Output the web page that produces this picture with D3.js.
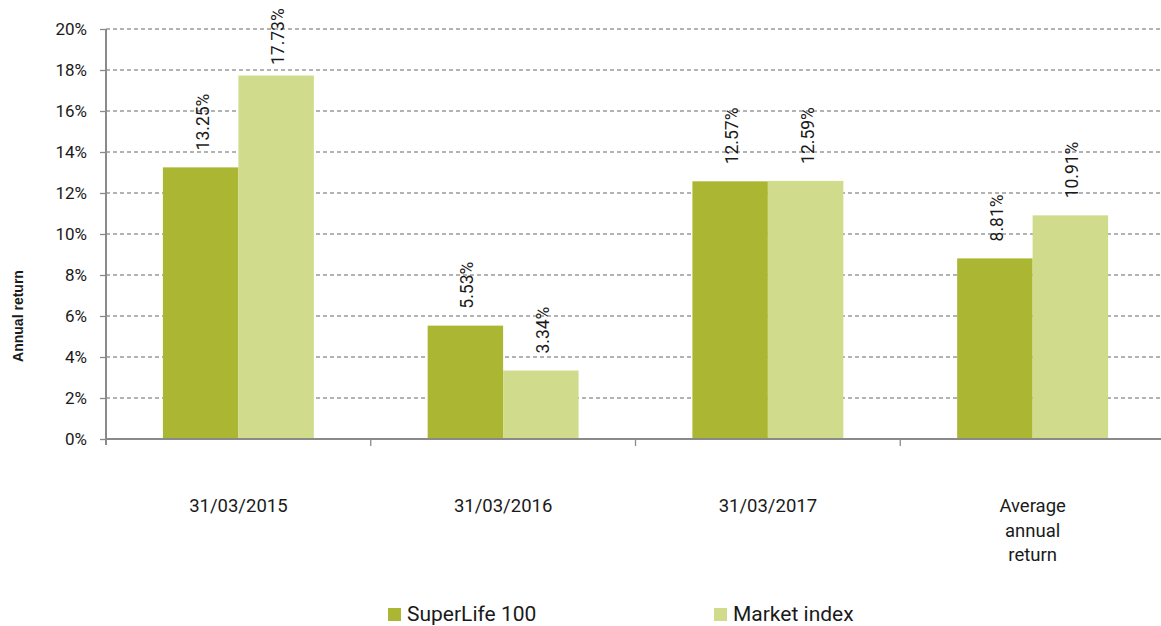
<!DOCTYPE html>
<html>
<head>
<meta charset="utf-8">
<script src="https://cdn.jsdelivr.net/npm/d3@7"></script>
<style>
  body { margin: 0; background: #fff; }
  text { font-family: Roboto, "Noto Sans", sans-serif; fill: #1a1a1a; }
</style>
</head>
<body>
<div id="chart-area"></div>
<script>
// data
let categories = ["31/03/2015", "31/03/2016", "31/03/2017", "Average annual return"];
let seriesNames = ["SuperLife 100", "Market index"];
let superLife = [13.25, 5.53, 12.57, 8.81];
let marketIndex = [17.73, 3.34, 12.59, 10.91];
let yTicks = [0, 2, 4, 6, 8, 10, 12, 14, 16, 18, 20];
let colors = ["#abb733", "#d0dc8c"];

let width = 1161,
	height = 626;

let svg = d3.select("#chart-area")
	.append("svg")
	.attr("width", width)
	.attr("height", height);

// scales
let x = d3.scaleBand()
	.domain(categories)
	.range([106, 1165])
	.paddingInner(0)
	.paddingOuter(0);

let xSub = d3.scaleBand()
	.domain(seriesNames)
	.range([0, x.bandwidth()])
	.paddingInner(0)
	.paddingOuter(0.754);

let y = d3.scaleLinear()
	.domain([0, 20])
	.range([439, 29]);

// gridlines
svg.append("g")
	.selectAll("line")
	.data(yTicks.filter(d => d > 0))
	.enter()
	.append("line")
	.attr("x1", 106)
	.attr("x2", width)
	.attr("y1", d => y(d))
	.attr("y2", d => y(d))
	.attr("stroke", "#9a9a9a")
	.attr("stroke-width", 1.3)
	.attr("stroke-dasharray", "4,3");

// bars
let rows = categories.map((c, i) => ({ cat: c, values: [superLife[i], marketIndex[i]] }));

let groups = svg.selectAll(".grp")
	.data(rows)
	.enter()
	.append("g")
	.attr("class", "grp")
	.attr("transform", d => "translate(" + x(d.cat) + ",0)");

groups.selectAll("rect")
	.data(d => d.values.map((v, j) => ({ name: seriesNames[j], value: v, j: j })))
	.enter()
	.append("rect")
	.attr("x", d => xSub(d.name))
	.attr("width", xSub.bandwidth())
	.attr("y", d => y(d.value))
	.attr("height", d => y(0) - y(d.value))
	.attr("fill", d => colors[d.j]);

// value labels (rotated)
groups.selectAll(".lbl")
	.data(d => d.values.map((v, j) => ({ name: seriesNames[j], value: v })))
	.enter()
	.append("text")
	.attr("class", "lbl")
	.attr("transform", d => {
		let cx = xSub(d.name) + xSub.bandwidth() / 2;
		let ty = Math.max(y(d.value) - 17, 65);
		return "translate(" + (cx + 8) + "," + ty + ") rotate(-90)";
	})
	.style("font-size", "17.5px")
	.text(d => d.value.toFixed(2) + "%");

// y axis
let yAxis = d3.axisLeft(y)
	.tickValues(yTicks)
	.tickSize(6)
	.tickPadding(13)
	.tickFormat(d => d + "%");

let yG = svg.append("g")
	.attr("transform", "translate(106,0)")
	.call(yAxis);
yG.select(".domain").attr("stroke", "#8a8a8a").attr("stroke-width", 2).attr("d", "M0,29V445");
yG.selectAll(".tick line").attr("stroke", "#8a8a8a").attr("stroke-width", 1.3);
yG.selectAll(".tick text")
	.style("font-size", "17px")
	.style("font-family", "Roboto, sans-serif")
	.attr("fill", "#1a1a1a");

// x axis line and ticks
svg.append("line")
	.attr("x1", 106)
	.attr("x2", width)
	.attr("y1", y(0))
	.attr("y2", y(0))
	.attr("stroke", "#8a8a8a")
	.attr("stroke-width", 2);

svg.append("g")
	.selectAll("line")
	.data(categories.slice(1))
	.enter()
	.append("line")
	.attr("x1", d => x(d))
	.attr("x2", d => x(d))
	.attr("y1", y(0))
	.attr("y2", y(0) + 7)
	.attr("stroke", "#8a8a8a")
	.attr("stroke-width", 1.3);

// category labels
let catText = svg.append("g")
	.selectAll("text")
	.data(categories)
	.enter()
	.append("text")
	.attr("x", d => x(d) + x.bandwidth() / 2)
	.attr("y", 512)
	.style("font-size", "18.5px")
	.style("text-anchor", "middle");

catText.each(function (d) {
	let lines = d === "Average annual return" ? ["Average", "annual", "return"] : [d];
	let t = d3.select(this);
	lines.forEach((l, i) => {
		t.append("tspan")
			.attr("x", x(d) + x.bandwidth() / 2)
			.attr("dy", i === 0 ? 0 : 24.5)
			.text(l);
	});
});

// y axis title
svg.append("text")
	.text("Annual return")
	.attr("transform", "translate(23,316) rotate(-90)")
	.style("text-anchor", "middle")
	.style("font-family", "'Liberation Sans', Arial, sans-serif")
	.style("font-weight", "bold")
	.style("font-size", "14px");

// legend
let legendX = [388, 714];
let legend = svg.append("g")
	.selectAll("g")
	.data(seriesNames)
	.enter()
	.append("g")
	.attr("transform", (d, i) => "translate(" + legendX[i] + ",608)");

legend.append("rect")
	.attr("width", 13)
	.attr("height", 13)
	.attr("fill", (d, i) => colors[i]);

legend.append("text")
	.attr("x", 19)
	.attr("y", 12.5)
	.style("font-size", "21px")
	.text(d => d);
</script>
</body>
</html>
